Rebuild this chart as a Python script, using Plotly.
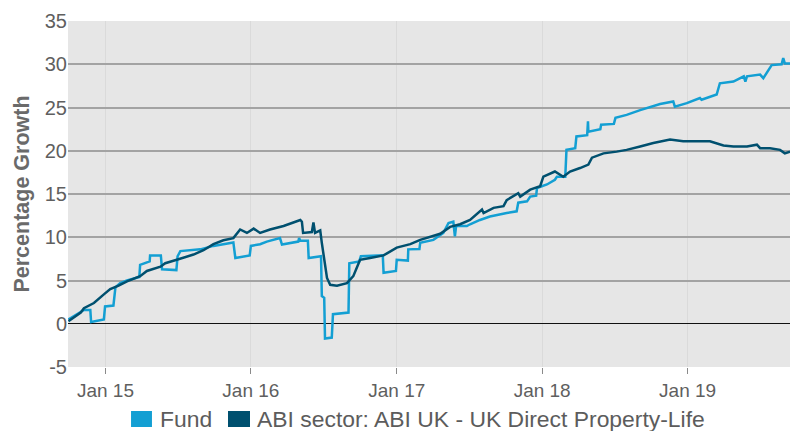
import plotly.graph_objects as go

fund_dates = [
    "2014-09-30", "2014-10-14", "2014-10-31", "2014-11-08", "2014-11-24", "2014-11-26",
    "2014-12-28", "2014-12-31", "2015-01-21", "2015-01-26", "2015-02-07", "2015-02-24",
    "2015-03-27", "2015-03-29", "2015-04-22", "2015-04-23", "2015-05-20", "2015-05-23",
    "2015-06-28", "2015-07-01", "2015-07-08", "2015-08-27", "2015-09-29", "2015-11-18",
    "2015-11-23", "2015-12-29", "2016-01-01", "2016-01-24", "2016-02-10", "2016-03-14",
    "2016-03-19", "2016-04-29", "2016-05-01", "2016-05-04", "2016-05-23", "2016-05-25",
    "2016-06-25", "2016-06-27", "2016-07-03", "2016-07-05", "2016-07-22", "2016-07-25",
    "2016-09-02", "2016-09-04", "2016-09-29", "2016-10-03", "2016-11-27", "2016-11-29",
    "2016-12-30", "2017-01-01", "2017-01-29", "2017-01-30", "2017-02-27", "2017-03-01",
    "2017-04-03", "2017-04-28", "2017-05-11", "2017-05-23", "2017-05-27", "2017-05-30",
    "2017-06-26", "2017-07-04", "2017-07-29", "2017-08-23", "2017-10-04", "2017-10-29",
    "2017-11-02", "2017-11-24", "2017-12-02", "2017-12-17", "2017-12-19", "2018-01-13",
    "2018-02-02", "2018-02-07", "2018-02-28", "2018-03-03", "2018-03-25", "2018-03-28",
    "2018-04-24", "2018-04-26", "2018-04-27", "2018-05-27", "2018-05-29", "2018-06-30",
    "2018-07-04", "2018-08-01", "2018-09-04", "2018-10-24", "2018-11-26", "2018-11-30",
    "2018-12-30", "2019-02-01", "2019-02-05", "2019-03-15", "2019-03-23", "2019-04-26",
    "2019-05-22", "2019-05-26", "2019-05-30", "2019-07-02", "2019-07-10", "2019-07-19",
    "2019-07-31", "2019-08-25", "2019-08-29", "2019-09-02", "2019-09-15",
]
fund_values = [
    0.5, 0.9, 1.3, 1.6, 1.6, 0.2,
    0.5, 2.0, 2.1, 4.2, 4.7, 5.0,
    5.4, 6.8, 7.2, 7.9, 7.9, 6.3,
    6.2, 7.8, 8.4, 8.6, 9.0, 9.4,
    7.6, 7.9, 9.0, 9.2, 9.5, 9.9,
    9.15, 9.5, 9.9, 9.6, 9.6, 7.6,
    7.8, 3.2, 3.0, -1.7, -1.6, 1.1,
    1.3, 7.0, 7.2, 7.8, 7.9, 5.9,
    6.1, 7.4, 7.3, 8.6, 8.65, 9.35,
    9.7, 10.5, 11.65, 11.8, 10.1, 11.3,
    11.3, 11.5, 12.0, 12.4, 12.8, 13.0,
    14.0, 14.15, 14.7, 14.8, 15.7, 16.1,
    16.65, 17.0, 17.0, 20.1, 20.3, 21.65,
    21.8, 23.4, 22.2, 22.5, 23.0, 23.1,
    23.8, 24.15, 24.7, 25.4, 25.7, 25.1,
    25.5, 26.1, 25.9, 26.5, 27.8, 28.0,
    28.6, 28.0, 28.6, 28.8, 28.4, 29.0,
    29.9, 30.0, 30.7, 30.1, 30.1,
]

abi_dates = [
    "2014-09-30", "2014-10-31", "2014-11-08", "2014-12-03", "2014-12-28", "2015-01-13",
    "2015-02-03", "2015-02-24", "2015-03-29", "2015-04-15", "2015-05-19", "2015-05-31",
    "2015-06-29", "2015-08-10", "2015-09-04", "2015-09-29", "2015-10-24", "2015-11-18",
    "2015-12-05", "2015-12-22", "2016-01-08", "2016-01-24", "2016-02-18", "2016-03-23",
    "2016-04-13", "2016-05-04", "2016-05-08", "2016-05-11", "2016-06-02", "2016-06-06",
    "2016-06-10", "2016-06-23", "2016-06-27", "2016-07-05", "2016-07-10", "2016-07-18",
    "2016-08-04", "2016-08-29", "2016-09-14", "2016-09-23", "2016-10-01", "2016-10-26",
    "2016-11-29", "2017-01-01", "2017-02-04", "2017-03-01", "2017-03-30", "2017-04-20",
    "2017-05-15", "2017-06-09", "2017-07-04", "2017-08-03", "2017-08-07", "2017-09-01",
    "2017-09-26", "2017-10-04", "2017-11-02", "2017-11-07", "2017-12-02", "2017-12-27",
    "2018-01-04", "2018-02-02", "2018-02-23", "2018-03-12", "2018-04-06", "2018-04-27",
    "2018-05-06", "2018-06-04", "2018-07-07", "2018-08-01", "2018-09-04", "2018-10-07",
    "2018-11-18", "2018-12-21", "2019-01-24", "2019-02-26", "2019-04-01", "2019-04-26",
    "2019-05-30", "2019-06-24", "2019-07-02", "2019-07-27", "2019-08-21", "2019-09-02",
    "2019-09-15",
]
abi_values = [
    0.3, 1.3, 1.8, 2.4, 3.4, 4.0,
    4.4, 4.9, 5.5, 6.1, 6.6, 7.0,
    7.4, 8.0, 8.5, 9.2, 9.65, 9.9,
    10.9, 10.5, 11.0, 10.5, 10.9, 11.3,
    11.65, 12.0, 11.8, 10.5, 10.6, 11.7,
    10.5, 10.8, 9.35, 7.0, 5.3, 4.5,
    4.4, 4.7, 5.5, 6.5, 7.4, 7.6,
    7.9, 8.8, 9.2, 9.7, 10.1, 10.4,
    11.2, 11.5, 12.0, 13.2, 12.8, 13.4,
    13.6, 14.3, 15.1, 14.7, 15.5, 15.9,
    17.0, 17.6, 17.0, 17.6, 18.0, 18.4,
    19.2, 19.7, 19.9, 20.1, 20.5, 20.9,
    21.3, 21.1, 21.1, 21.1, 20.6, 20.5,
    20.5, 20.7, 20.3, 20.3, 20.1, 19.7,
    19.9,
]

series_names = ["Fund", "ABI sector: ABI UK - UK Direct Property-Life"]
series_colors = ["#139fd3", "#00506f"]
y_ticks = [-5, 0, 5, 10, 15, 20, 25, 30, 35]
y_tick_labels = ["-5", "0", "5", "10", "15", "20", "25", "30", "35"]
x_ticks = ["2015-01-01", "2016-01-01", "2017-01-01", "2018-01-01", "2019-01-01"]
x_tick_labels = ["Jan 15", "Jan 16", "Jan 17", "Jan 18", "Jan 19"]

fig = go.Figure()
for name, xs, ys, col in [
    (series_names[0], fund_dates, fund_values, series_colors[0]),
    (series_names[1], abi_dates, abi_values, series_colors[1]),
]:
    fig.add_trace(go.Scatter(x=xs, y=ys, mode="lines", name=name,
                             line=dict(color=col, width=2.5), showlegend=False))

# Manual legend below the chart (paper coordinates)
legend_items = [
    # (name, colour, swatch x0, swatch x1, text x)
    (series_names[0], series_colors[0], 0.0873, 0.1163, 0.1250),
    (series_names[1], series_colors[1], 0.2216, 0.2521, 0.2590),
]
for name, col, sx0, sx1, tx in legend_items:
    fig.add_shape(type="rect", xref="paper", yref="paper",
                  x0=sx0, x1=sx1, y0=-0.1734, y1=-0.1272,
                  fillcolor=col, line=dict(width=0))
    fig.add_annotation(xref="paper", yref="paper", x=tx, y=-0.1503,
                       xanchor="left", yanchor="middle", text=name, showarrow=False,
                       font=dict(size=22.9, color="#5c5c5c"))

font_fam = "Liberation Sans, Arial, sans-serif"
fig.update_layout(
    width=790, height=431,
    margin=dict(l=68, r=0, t=21, b=64),
    paper_bgcolor="white",
    plot_bgcolor="#e6e6e6",
    font=dict(family=font_fam, size=19, color="#5f5f5f"),
    showlegend=False,
    xaxis=dict(
        type="date",
        range=["2014-09-29", "2019-09-15"],
        tickvals=x_ticks, ticktext=x_tick_labels,
        showgrid=True, gridcolor="#dadada", gridwidth=1,
        ticks="outside", ticklen=6, tickcolor="#8a8a8a", tickwidth=1,
        showline=False, zeroline=False, automargin=False,
        tickfont=dict(size=19, color="#5f5f5f"),
    ),
    yaxis=dict(
        range=[-5, 35],
        tickvals=y_ticks, ticktext=y_tick_labels,
        showgrid=True, gridcolor="#a3a3a3", gridwidth=1.5,
        zeroline=True, zerolinecolor="#111111", zerolinewidth=1,
        showline=False, ticks="", automargin=False,
        tickfont=dict(size=20, color="#5f5f5f"),
        title=dict(text="<b>Percentage Growth</b>", font=dict(size=21.5, color="#6a6a6a"),
                   standoff=9),
    ),
)

fig.write_html("out.html",
               config={"displayModeBar": False},
               post_script="document.body.style.margin='0';document.body.style.padding='0';")
